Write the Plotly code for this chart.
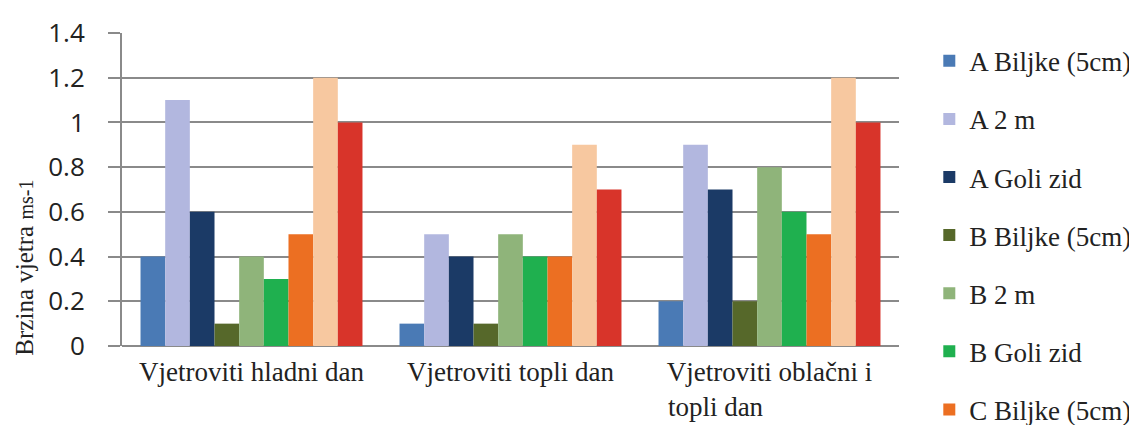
import plotly.graph_objects as go

categories = ["Vjetroviti hladni dan", "Vjetroviti topli dan",
              "Vjetroviti oblačni i<br>topli dan" + "\u00a0" * 16]
series_names = ["A Biljke (5cm)", "A 2 m", "A Goli zid",
                "B Biljke (5cm)", "B 2 m", "B Goli zid",
                "C Biljke (5cm)", "C 2 m", "C Goli zid"]
a_biljke = [0.4, 0.1, 0.2]
a_2m = [1.1, 0.5, 0.9]
a_goli = [0.6, 0.4, 0.7]
b_biljke = [0.1, 0.1, 0.2]
b_2m = [0.4, 0.5, 0.8]
b_goli = [0.3, 0.4, 0.6]
c_biljke = [0.5, 0.4, 0.5]
c_2m = [1.2, 0.9, 1.2]
c_goli = [1.0, 0.7, 1.0]
y_ticks = [0, 0.2, 0.4, 0.6, 0.8, 1.0, 1.2, 1.4]
y_tick_labels = ["0", "0.2", "0.4", "0.6", "0.8", "1", "1.2", "1.4"]
y_title = "Brzina vjetra <span style='font-size:20px'>ms-1</span>"

values = [a_biljke, a_2m, a_goli, b_biljke, b_2m, b_goli, c_biljke, c_2m, c_goli]
colors = ["#4a7ab5", "#b2b7df", "#1b3a66", "#56682a", "#8fb47a", "#1fb04f",
          "#ec6f22", "#f7c8a0", "#d8342a"]
in_legend = [True] * 7 + [False] * 2

fig = go.Figure()
for i, (name, vals, col) in enumerate(zip(series_names, values, colors)):
    fig.add_trace(go.Bar(
        x=categories, y=vals, name=name,
        marker=dict(color=col, line=dict(width=0)),
        legendgroup="g%d" % i, showlegend=in_legend[i],
    ))

fig.update_layout(
    width=1137, height=425,
    margin=dict(l=114, r=246, t=25, b=87, autoexpand=False),
    paper_bgcolor="white", plot_bgcolor="white",
    barmode="group", bargap=0.143, bargroupgap=0,
    font=dict(family="Liberation Serif", color="#222"),
    legend=dict(
        x=1.039, xanchor="left", y=0.988, yanchor="top",
        font=dict(family="Liberation Serif", size=27, color="#222"),
        traceorder="grouped", tracegroupgap=20,
        itemwidth=30, bgcolor="rgba(0,0,0,0)", maxheight=900,
    ),
    annotations=[dict(
        text=y_title, textangle=-90, xref="paper", yref="paper",
        x=-0.125, y=0.25, xanchor="center", yanchor="middle", showarrow=False,
        font=dict(family="Liberation Serif", size=25, color="#222"),
    )],
)
fig.update_xaxes(
    showgrid=False, showline=False, ticks="", ticklabelstandoff=7,
    automargin=False,
    tickfont=dict(family="Liberation Serif", size=27, color="#222"),
)
fig.update_yaxes(
    range=[0, 1.4], tickvals=y_ticks, ticktext=y_tick_labels,
    automargin=False,
    showgrid=True, gridcolor="#8a8a8a", gridwidth=2,
    showline=True, linecolor="#8a8a8a", linewidth=2,
    ticks="outside", ticklen=12, tickcolor="#8a8a8a", tickwidth=2,
    tickfont=dict(family="Open Sans", size=26, color="#222"),
    ticklabelstandoff=18,
    zeroline=True, zerolinecolor="#8a8a8a", zerolinewidth=2,
)

fig.write_html("out.html")
